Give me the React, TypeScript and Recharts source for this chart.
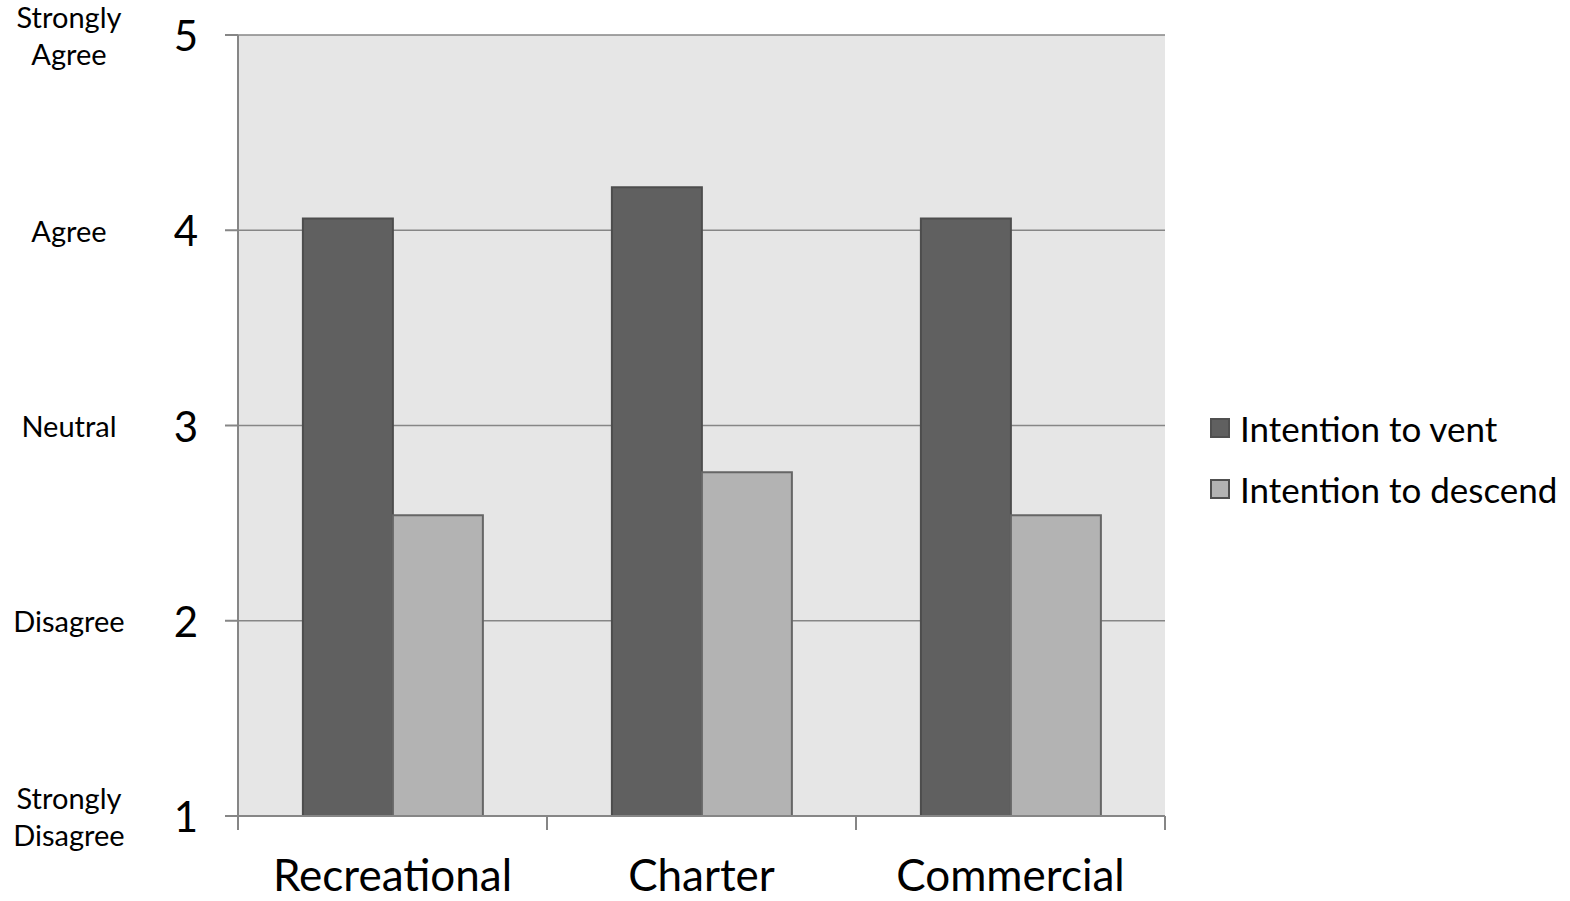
import { BarChart, Bar, XAxis, YAxis, CartesianGrid, Legend } from 'recharts';

const categories = ['Recreational', 'Charter', 'Commercial'];
const intentionToVent = [4.06, 4.22, 4.06];
const intentionToDescend = [2.54, 2.76, 2.54];
const seriesNames = ['Intention to vent', 'Intention to descend'];
const yTicks = [1, 2, 3, 4, 5];
const scaleLabels: Record<number, string[]> = {
  1: ['Strongly', 'Disagree'],
  2: ['Disagree'],
  3: ['Neutral'],
  4: ['Agree'],
  5: ['Strongly', 'Agree'],
};

const chartData = categories.map((name, i) => ({
  name,
  vent: intentionToVent[i],
  descend: intentionToDescend[i],
}));

const FONT = 'Lato, "Open Sans", sans-serif';
const AXIS = '#868686';

const YTick = ({ x, y, payload }: any) => {
  const lines = scaleLabels[payload.value] || [];
  return (
    <g>
      <text x={x} y={y} dx={-39} textAnchor="middle" dominantBaseline="central" fontSize={42} fill="#000" fontFamily={FONT}>
        {payload.value}
      </text>
      {lines.map((line, i) => (
        <text
          key={line}
          x={x}
          y={y}
          dx={-156}
          dy={(i - (lines.length - 1) / 2) * 37}
          textAnchor="middle"
          dominantBaseline="central"
          fontSize={29}
          fill="#000"
          fontFamily={FONT}
        >
          {line}
        </text>
      ))}
    </g>
  );
};

// category label plus tick marks at the band edges (Excel-style)
const XTick = ({ x, y, payload, index, width, visibleTicksCount }: any) => {
  const half = payload.offset || width / visibleTicksCount / 2;
  const isLast = index === visibleTicksCount - 1;
  return (
    <g>
      <line x1={x - half} y1={y} x2={x - half} y2={y + 14} stroke={AXIS} strokeWidth={2} />
      {isLast && <line x1={x + half} y1={y} x2={x + half} y2={y + 14} stroke={AXIS} strokeWidth={2} />}
      <text x={x} y={y} dy={58} textAnchor="middle" dominantBaseline="central" fontSize={44} fill="#000" fontFamily={FONT}>
        {payload.value}
      </text>
    </g>
  );
};

const LegendContent = ({ payload }: any) => {
  const items = [...(payload || [])].sort(
    (a: any, b: any) => seriesNames.indexOf(a.value) - seriesNames.indexOf(b.value)
  );
  return (
    <div style={{ fontFamily: FONT }}>
      {items.map((entry: any) => (
        <div key={entry.value} style={{ display: 'flex', alignItems: 'center', height: 61 }}>
          <span
            style={{
              display: 'inline-block',
              width: 16,
              height: 16,
              background: entry.color,
              border: '2px solid #505050',
              marginRight: 10,
            }}
          />
          <span style={{ fontSize: 35, color: '#000' }}>{entry.value}</span>
        </div>
      ))}
    </div>
  );
};

export default function App() {
  return (
    <div style={{ position: 'absolute', left: 0, top: 0, background: '#fff' }}>
      <BarChart
        width={1570}
        height={901}
        data={chartData}
        margin={{ top: 35, right: 47, left: 0, bottom: 0 }}
        barCategoryGap="21%"
        barGap={0}
      >
        <CartesianGrid vertical={false} stroke={AXIS} strokeWidth={1.5} fill="#e6e6e6" fillOpacity={1} />
        <XAxis
          dataKey="name"
          height={85}
          interval={0}
          tick={<XTick />}
          tickLine={false}
          tickSize={0}
          tickMargin={0}
          stroke={AXIS}
          strokeWidth={2}
        />
        <YAxis
          domain={[1, 5]}
          ticks={yTicks}
          width={238}
          tickSize={13}
          tickMargin={0}
          stroke={AXIS}
          strokeWidth={2}
          tick={<YTick />}
          interval={0}
        />
        <Legend
          layout="vertical"
          align="right"
          verticalAlign="middle"
          content={<LegendContent />}
          wrapperStyle={{ left: 1210, top: 397, width: 358 }}
        />
        <Bar dataKey="vent" name={seriesNames[0]} fill="#606060" stroke="#4d4d4d" strokeWidth={2} isAnimationActive={false} />
        <Bar dataKey="descend" name={seriesNames[1]} fill="#b3b3b3" stroke="#666666" strokeWidth={2} isAnimationActive={false} />
      </BarChart>
    </div>
  );
}
